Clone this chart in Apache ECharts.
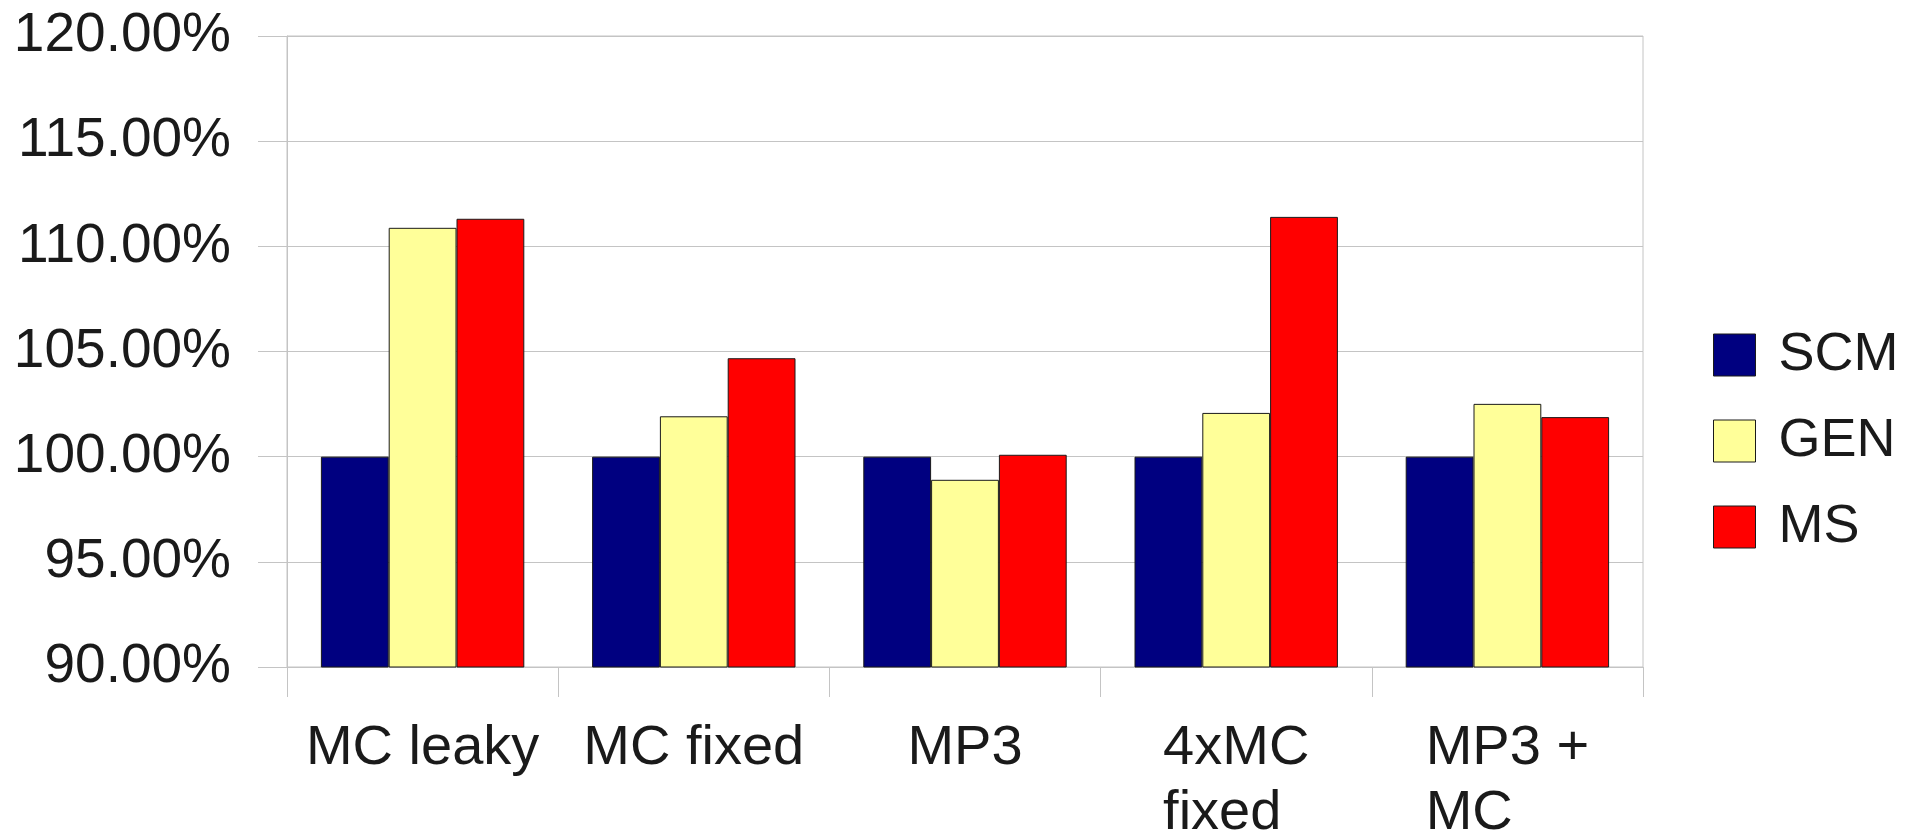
<!DOCTYPE html>
<html>
<head>
<meta charset="utf-8">
<script src="https://cdn.jsdelivr.net/npm/echarts@6/dist/echarts.min.js"></script>
<style>
html,body{margin:0;padding:0;background:#fff;}
#c{width:1907px;height:832px;}
</style>
</head>
<body>
<div id="c"></div>
<script>
const categories = ["MC leaky", "MC fixed", "MP3", "4xMC\nfixed", "MP3 +\nMC"];
const seriesNames = ["SCM", "GEN", "MS"];
const scmValues = [100.00, 100.00, 100.00, 100.00, 100.00];
const genValues = [110.88, 101.92, 98.90, 102.08, 102.51];
const msValues  = [111.31, 104.68, 100.09, 111.40, 101.88];
const yTicks = { min: 90, max: 120, interval: 5 };
const colors = ["#000080", "#ffff99", "#ff0000"];

const FONT = "'Liberation Sans', Arial, sans-serif";
const TEXT = "#1a1a1a";
const GRIDC = "#c4c4c4";

const chart = echarts.init(document.getElementById('c'), null, {renderer: 'canvas'});
const values = [scmValues, genValues, msValues];

chart.setOption({
  animation: false,
  backgroundColor: '#ffffff',
  textStyle: { fontFamily: FONT },
  grid: {
    left: 287, right: 264, top: 36, bottom: 165,
    show: true, borderColor: GRIDC, borderWidth: 1, backgroundColor: 'transparent',
    containLabel: false, outerBoundsMode: 'none'
  },
  legend: {
    orient: 'vertical',
    left: 1713, top: 328,
    padding: 0,
    itemWidth: 42, itemHeight: 42, itemGap: 32,
    icon: 'rect',
    data: seriesNames,
    textStyle: { fontFamily: FONT, fontSize: 54, color: TEXT, lineHeight: 42, padding: [4, 0, 0, 18] },
    itemStyle: { borderColor: '#1a1a1a', borderWidth: 1 }
  },
  xAxis: {
    type: 'category',
    data: categories,
    boundaryGap: true,
    axisLine: { show: true, lineStyle: { color: GRIDC, width: 1 } },
    axisTick: { show: true, interval: 0, length: 30, lineStyle: { color: GRIDC, width: 1 } },
    axisLabel: {
      interval: 0,
      margin: 49,
      align: 'center',
      formatter: function (v) {
        return v.split('\n').map(function (l) { return '{a|' + l + '}'; }).join('\n');
      },
      rich: {
        a: { fontFamily: FONT, fontSize: 56, lineHeight: 65, color: TEXT, align: 'left' }
      }
    },
    splitLine: { show: false }
  },
  yAxis: {
    type: 'value',
    min: yTicks.min, max: yTicks.max, interval: yTicks.interval,
    axisLine: { show: true, lineStyle: { color: GRIDC, width: 1 } },
    axisTick: { show: true, length: 29, lineStyle: { color: GRIDC, width: 1 } },
    axisLabel: {
      margin: 56,
      fontFamily: FONT, fontSize: 55, color: TEXT,
      formatter: function (v) { return v.toFixed(2) + '%'; }
    },
    splitLine: { show: true, lineStyle: { color: GRIDC, width: 1 } }
  },
  series: seriesNames.map(function (name, i) {
    return {
      name: name,
      type: 'bar',
      data: values[i],
      barGap: '0%',
      barCategoryGap: '25%',
      itemStyle: { color: colors[i], borderColor: '#1a1a1a', borderWidth: 1 }
    };
  })
});
</script>
</body>
</html>
